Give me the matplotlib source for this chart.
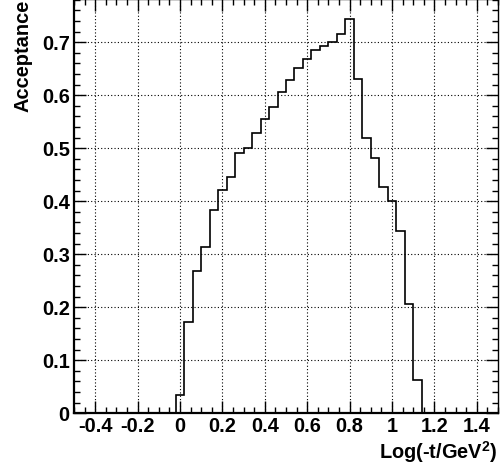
import numpy as np
import matplotlib
matplotlib.use("Agg")
import matplotlib.pyplot as plt
from matplotlib.ticker import MultipleLocator

# bin edges of Log(-t/GeV^2), width 0.04, starting at -0.02
edges = np.round(np.arange(-0.02, 1.1801, 0.04), 2)
# acceptance per bin
acceptance = [0.034, 0.172, 0.269, 0.314, 0.384, 0.421, 0.445, 0.491, 0.500, 0.528,
              0.555, 0.578, 0.606, 0.629, 0.652, 0.668, 0.686, 0.692, 0.700, 0.715,
              0.744, 0.631, 0.519, 0.482, 0.426, 0.400, 0.344, 0.206, 0.063, 0.0]

x_ticks = [-0.4, -0.2, 0, 0.2, 0.4, 0.6, 0.8, 1, 1.2, 1.4]
x_tick_labels = ["-0.4", "-0.2", "0", "0.2", "0.4", "0.6", "0.8", "1", "1.2", "1.4"]
y_ticks = [0, 0.1, 0.2, 0.3, 0.4, 0.5, 0.6, 0.7]
y_tick_labels = ["0", "0.1", "0.2", "0.3", "0.4", "0.5", "0.6", "0.7"]

plt.rcParams['font.family'] = ['Liberation Sans', 'DejaVu Sans']
plt.rcParams['font.weight'] = 'bold'
plt.rcParams['mathtext.fontset'] = 'custom'
plt.rcParams['mathtext.rm'] = 'Liberation Sans:bold'
plt.rcParams['mathtext.default'] = 'rm'

fig = plt.figure(figsize=(5.02, 4.68), dpi=100)
ax = fig.add_axes([74 / 502, (468 - 413.3) / 468, 424 / 502, 414 / 468])

# histogram outline
ax.stairs(acceptance, edges, color='black', linewidth=1.2, baseline=0)

ax.set_xlim(-0.5, 1.5)
ax.set_ylim(0, 0.781)

ax.set_xticks(x_ticks)
ax.set_xticklabels(x_tick_labels)
ax.set_yticks(y_ticks)
ax.set_yticklabels(y_tick_labels)
ax.xaxis.set_minor_locator(MultipleLocator(0.05))
ax.yaxis.set_minor_locator(MultipleLocator(0.02))

ax.grid(True, which='major', linestyle=(0, (1, 2)), color='black', linewidth=0.8)
ax.set_axisbelow(True)

ax.tick_params(which='both', direction='in', top=True, right=True,
               labelsize=14.4, width=1.0)
ax.tick_params(which='major', length=8.6)
ax.tick_params(which='minor', length=4.3)
ax.tick_params(axis='x', pad=3)
ax.tick_params(axis='y', pad=3)

for side in ['left', 'bottom']:
    ax.spines[side].set_linewidth(1.6)
for side in ['top', 'right']:
    ax.spines[side].set_linewidth(1.0)

ax.set_ylabel("Acceptance", fontsize=14.4, fontweight='bold', loc='top')
ax.yaxis.set_label_coords(-0.099, 1.0)
ax.set_xlabel(r"Log(-t/GeV$^{2}$)", fontsize=14.4, fontweight='bold', loc='right')
ax.xaxis.set_label_coords(0.998, -0.062)

fig.savefig("out.png", dpi=100)
